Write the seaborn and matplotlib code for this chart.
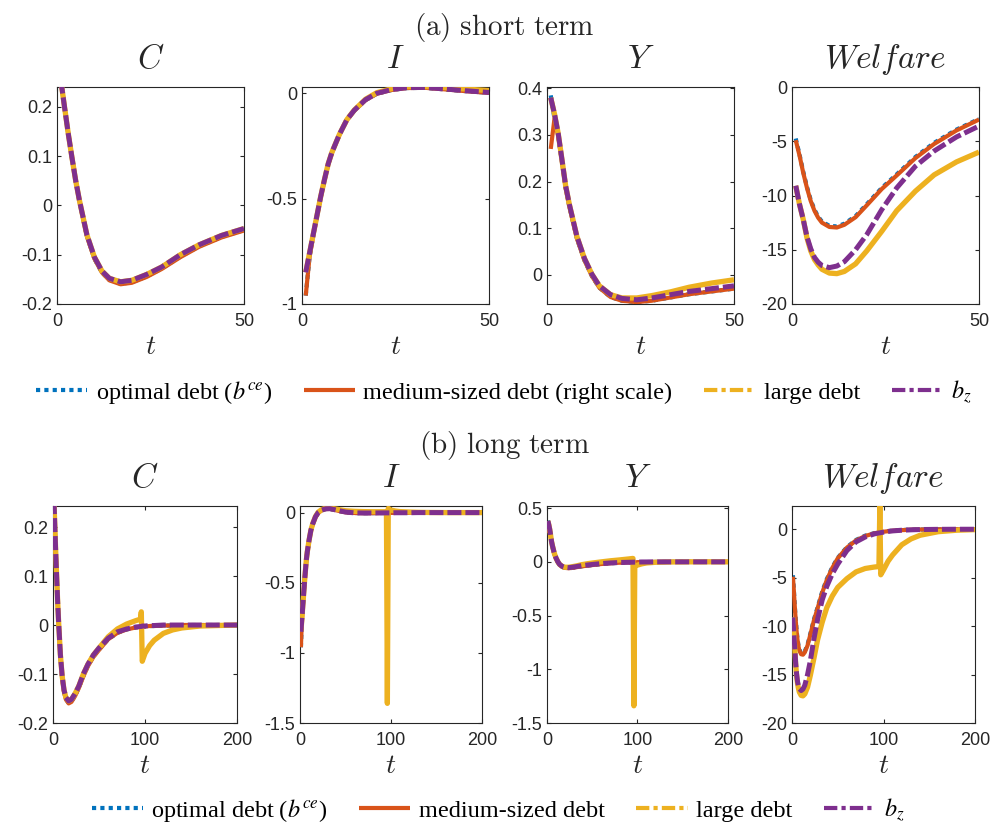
import matplotlib
matplotlib.use("Agg")
import matplotlib.pyplot as plt
import seaborn as sns
from matplotlib.lines import Line2D
from matplotlib.ticker import FuncFormatter

# ---------------- data ----------------
t_short = [1, 2, 3, 4, 5, 6, 7, 8, 10, 12, 14, 17, 20, 24, 28, 33, 38, 44, 50]
t_tail = [60, 70, 80, 90, 95, 96, 97, 100, 105, 110, 120, 130, 140, 160, 180, 200]

# consumption C
C_opt_s = [0.255, 0.200, 0.146, 0.097, 0.050, 0.009, -0.027, -0.062, -0.108, -0.136, -0.151, -0.159, -0.156, -0.144, -0.128, -0.104, -0.083, -0.064, -0.050]
C_med_s = [0.255, 0.200, 0.146, 0.097, 0.050, 0.009, -0.027, -0.062, -0.108, -0.136, -0.152, -0.160, -0.157, -0.145, -0.129, -0.105, -0.084, -0.065, -0.051]
C_lrg_s = [0.255, 0.200, 0.146, 0.097, 0.050, 0.010, -0.025, -0.060, -0.105, -0.133, -0.148, -0.155, -0.152, -0.140, -0.125, -0.100, -0.080, -0.061, -0.047]
C_bz_s = [0.255, 0.200, 0.146, 0.097, 0.050, 0.010, -0.025, -0.060, -0.105, -0.133, -0.148, -0.155, -0.152, -0.140, -0.125, -0.100, -0.080, -0.061, -0.047]
C_opt_tl = [-0.029, -0.016, -0.009, -0.005, -0.004, -0.004, -0.003, -0.003, -0.002, -0.002, -0.001, -0.001, 0.0, 0.0, 0.0, 0.0]
C_med_tl = [-0.029, -0.016, -0.009, -0.005, -0.004, -0.004, -0.003, -0.003, -0.002, -0.002, -0.001, -0.001, 0.0, 0.0, 0.0, 0.0]
C_lrg_tl = [-0.024, -0.008, 0.002, 0.009, 0.012, 0.027, -0.074, -0.058, -0.042, -0.031, -0.017, -0.010, -0.006, -0.002, -0.001, 0.0]
C_bz_tl = [-0.027, -0.014, -0.008, -0.004, -0.003, -0.003, -0.002, -0.002, -0.001, -0.001, 0.0, 0.0, 0.0, 0.0, 0.0, 0.0]

# investment I
I_opt_s = [-0.96, -0.78, -0.675, -0.582, -0.492, -0.412, -0.337, -0.282, -0.197, -0.127, -0.082, -0.032, -0.002, 0.016, 0.025, 0.026, 0.019, 0.010, 0.002]
I_med_s = [-0.96, -0.78, -0.675, -0.582, -0.492, -0.412, -0.337, -0.282, -0.197, -0.127, -0.082, -0.032, -0.002, 0.016, 0.025, 0.026, 0.019, 0.010, 0.002]
I_lrg_s = [-0.85, -0.76, -0.67, -0.58, -0.49, -0.41, -0.335, -0.28, -0.195, -0.125, -0.079, -0.028, 0.003, 0.022, 0.031, 0.032, 0.027, 0.020, 0.013]
I_bz_s = [-0.85, -0.76, -0.67, -0.58, -0.49, -0.41, -0.335, -0.28, -0.195, -0.125, -0.080, -0.030, 0.0, 0.018, 0.027, 0.028, 0.021, 0.012, 0.004]
I_opt_tl = [-0.003, -0.004, -0.004, -0.003, -0.003, -0.003, -0.003, -0.002, -0.002, -0.002, -0.001, -0.001, 0.0, 0.0, 0.0, 0.0]
I_med_tl = [-0.003, -0.004, -0.004, -0.003, -0.003, -0.003, -0.003, -0.002, -0.002, -0.002, -0.001, -0.001, 0.0, 0.0, 0.0, 0.0]
I_lrg_tl = [0.009, 0.007, 0.006, 0.006, 0.006, -1.36, 0.030, 0.018, 0.011, 0.007, 0.004, 0.002, 0.001, 0.0, 0.0, 0.0]
I_bz_tl = [-0.002, -0.003, -0.003, -0.002, -0.002, -0.002, -0.002, -0.002, -0.001, -0.001, -0.001, 0.0, 0.0, 0.0, 0.0, 0.0]

# output Y
Y_opt_s = [0.385, 0.335, 0.298, 0.243, 0.186, 0.146, 0.112, 0.078, 0.031, -0.003, -0.028, -0.048, -0.056, -0.059, -0.056, -0.049, -0.042, -0.036, -0.030]
Y_med_s = [0.270, 0.335, 0.298, 0.243, 0.186, 0.146, 0.112, 0.078, 0.031, -0.003, -0.028, -0.048, -0.056, -0.059, -0.056, -0.049, -0.042, -0.036, -0.030]
Y_lrg_s = [0.380, 0.345, 0.303, 0.247, 0.190, 0.150, 0.116, 0.082, 0.035, 0.001, -0.024, -0.043, -0.050, -0.050, -0.045, -0.037, -0.027, -0.018, -0.011]
Y_bz_s = [0.380, 0.345, 0.303, 0.247, 0.190, 0.150, 0.116, 0.082, 0.035, 0.001, -0.024, -0.043, -0.051, -0.054, -0.050, -0.043, -0.036, -0.030, -0.024]
Y_opt_tl = [-0.020, -0.013, -0.008, -0.005, -0.004, -0.004, -0.004, -0.003, -0.002, -0.002, -0.001, -0.001, 0.0, 0.0, 0.0, 0.0]
Y_med_tl = [-0.020, -0.013, -0.008, -0.005, -0.004, -0.004, -0.004, -0.003, -0.002, -0.002, -0.001, -0.001, 0.0, 0.0, 0.0, 0.0]
Y_lrg_tl = [0.0, 0.010, 0.018, 0.027, 0.032, -1.34, -0.040, -0.030, -0.018, -0.010, -0.004, -0.002, -0.001, 0.0, 0.0, 0.0]
Y_bz_tl = [-0.016, -0.010, -0.006, -0.004, -0.003, -0.003, -0.002, -0.002, -0.001, -0.001, 0.0, 0.0, 0.0, 0.0, 0.0, 0.0]

# welfare
W_opt_s = [-4.75, -6.2, -7.8, -9.2, -10.4, -11.3, -11.95, -12.4, -12.8, -12.85, -12.6, -11.9, -10.8, -9.3, -8.05, -6.45, -5.15, -3.92, -2.95]
W_med_s = [-4.9, -6.3, -7.9, -9.3, -10.5, -11.4, -12.05, -12.5, -12.9, -12.95, -12.7, -12.0, -10.9, -9.4, -8.15, -6.55, -5.25, -4.0, -3.0]
W_lrg_s = [-9.1, -10.8, -12.2, -13.9, -15.1, -15.9, -16.4, -16.8, -17.15, -17.2, -17.0, -16.3, -15.1, -13.3, -11.4, -9.6, -8.1, -6.9, -6.0]
W_bz_s = [-9.1, -10.8, -12.2, -13.8, -14.9, -15.7, -16.15, -16.45, -16.65, -16.5, -16.1, -15.0, -13.6, -11.3, -9.3, -7.3, -5.9, -4.6, -3.6]
W_opt_tl = [-1.85, -1.1, -0.66, -0.4, -0.31, -0.3, -0.29, -0.25, -0.19, -0.14, -0.08, -0.05, -0.03, -0.01, 0.0, 0.0]
W_med_tl = [-1.9, -1.15, -0.7, -0.42, -0.33, -0.32, -0.3, -0.26, -0.2, -0.15, -0.09, -0.05, -0.03, -0.01, 0.0, 0.0]
W_lrg_tl = [-5.1, -4.4, -4.05, -3.9, -3.85, 2.4, -4.7, -4.2, -3.3, -2.65, -1.6, -1.0, -0.62, -0.25, -0.1, -0.04]
W_bz_tl = [-2.2, -1.3, -0.8, -0.48, -0.38, -0.37, -0.35, -0.3, -0.23, -0.17, -0.1, -0.06, -0.03, -0.01, 0.0, 0.0]

titles = [r"$C$", r"$I$", r"$Y$", r"$Welfare$"]
row_titles = [r"$\mathrm{(a)\ short\ term}$", r"$\mathrm{(b)\ long\ term}$"]
legend_labels_a = [r"optimal debt ($b^{ce}$)", "medium-sized debt (right scale)", "large debt", r"$b_z$"]
legend_labels_b = [r"optimal debt ($b^{ce}$)", "medium-sized debt", "large debt", r"$b_z$"]
xticks_short = [0, 50]
xticks_long = [0, 100, 200]
yticks_short = [[-0.2, -0.1, 0, 0.1, 0.2], [-1, -0.5, 0], [0, 0.1, 0.2, 0.3, 0.4], [-20, -15, -10, -5, 0]]
yticks_long = [[-0.2, -0.1, 0, 0.1, 0.2], [-1.5, -1, -0.5, 0], [-1.5, -1, -0.5, 0, 0.5], [-20, -15, -10, -5, 0]]

# ---------------- style ----------------
COL_OPT, COL_MED, COL_LRG, COL_BZ = "#0072BD", "#D95319", "#EDB120", "#7E2F8E"
sns.set_theme(style="white")
plt.rcParams.update({
    "font.family": ["Liberation Sans", "DejaVu Sans"],
    "axes.unicode_minus": False,
    "axes.edgecolor": "#262626",
    "axes.linewidth": 0.8,
    "axes.facecolor": "white",
    "xtick.color": "#262626", "ytick.color": "#262626",
    "xtick.labelcolor": "#262626", "ytick.labelcolor": "#262626",
    "xtick.direction": "in", "ytick.direction": "in",
    "xtick.bottom": True, "ytick.left": True,
    "xtick.top": True, "ytick.right": True,
    "xtick.major.size": 3, "ytick.major.size": 3,
    "xtick.major.width": 0.8, "ytick.major.width": 0.8,
    "xtick.labelsize": 13, "ytick.labelsize": 13,
    "xtick.major.pad": 6.5, "ytick.major.pad": 3.5,
})

fig = plt.figure(figsize=(10.03, 8.27), dpi=100)
W, H = 1003.0, 827.0

rects_top = [(57, 187), (302, 187), (547, 187), (792, 187)]
rects_bot = [(53, 184), (300, 182), (547, 181), (792, 183)]


def draw_panel(ax, t, opt, med, lrg, bz):
    sns.lineplot(x=t, y=opt, ax=ax, color=COL_OPT, lw=3.0, linestyle=(0, (1, 1)),
                 dash_capstyle="butt", zorder=2)
    sns.lineplot(x=t, y=med, ax=ax, color=COL_MED, lw=3.0, solid_capstyle="butt", zorder=3)
    sns.lineplot(x=t, y=lrg, ax=ax, color=COL_LRG, lw=3.8, solid_capstyle="butt", zorder=4)
    sns.lineplot(x=t, y=bz, ax=ax, color=COL_BZ, lw=3.6, linestyle=(0, (2.8, 0.8)),
                 dash_capstyle="butt", zorder=5)


fmt = FuncFormatter(lambda v, p: f"{v:g}")

short_sets = [
    (C_opt_s, C_med_s, C_lrg_s, C_bz_s),
    (I_opt_s, I_med_s, I_lrg_s, I_bz_s),
    (Y_opt_s, Y_med_s, Y_lrg_s, Y_bz_s),
    (W_opt_s, W_med_s, W_lrg_s, W_bz_s),
]
tail_sets = [
    (C_opt_tl, C_med_tl, C_lrg_tl, C_bz_tl),
    (I_opt_tl, I_med_tl, I_lrg_tl, I_bz_tl),
    (Y_opt_tl, Y_med_tl, Y_lrg_tl, Y_bz_tl),
    (W_opt_tl, W_med_tl, W_lrg_tl, W_bz_tl),
]
ylims_short = [(-0.2, 0.24), (-1, 0.03), (-0.063, 0.403), (-20, 0)]
ylims_long = [(-0.2, 0.243), (-1.5, 0.047), (-1.5, 0.52), (-20, 2.4)]

t_long = t_short + t_tail

for row in range(2):
    rects = rects_top if row == 0 else rects_bot
    top_px = 87 if row == 0 else 506
    for k in range(4):
        left, width = rects[k]
        ax = fig.add_axes([left / W, 1 - (top_px + 217) / H, width / W, 217 / H])
        if row == 0:
            opt, med, lrg, bz = short_sets[k]
            draw_panel(ax, t_short, opt, med, lrg, bz)
            ax.set_xlim(0, 50)
            ax.set_xticks(xticks_short)
            ax.set_ylim(*ylims_short[k])
            ax.set_yticks(yticks_short[k])
        else:
            so, sm, sl, sb = short_sets[k]
            lo, lm, ll, lb = tail_sets[k]
            draw_panel(ax, t_long, so + lo, sm + lm, sl + ll, sb + lb)
            ax.set_xlim(0, 200)
            ax.set_xticks(xticks_long)
            ax.set_ylim(*ylims_long[k])
            ax.set_yticks(yticks_long[k])
        ax.yaxis.set_major_formatter(fmt)
        ax.xaxis.set_major_formatter(fmt)
        ax.tick_params(which="both", direction="in", top=True, right=True,
                       labeltop=False, labelright=False)
        for sp in ax.spines.values():
            sp.set_visible(True)
            sp.set_color("#262626")
            sp.set_linewidth(0.8)
        ax.set_title(titles[k], fontsize=24, pad=13.7, math_fontfamily="cm")
        ax.set_xlabel(r"$t$", fontsize=20, math_fontfamily="cm", va="center")
        ax.xaxis.set_label_coords(0.5, -0.2)
        ax.set_ylabel("")
        ax.grid(False)

fig.text(504 / W, 1 - 27 / H, row_titles[0], fontsize=21, math_fontfamily="cm",
         ha="center", va="center")
fig.text(504 / W, 1 - 446 / H, row_titles[1], fontsize=21, math_fontfamily="cm",
         ha="center", va="center")


def legend_handles():
    return [
        Line2D([], [], color=COL_OPT, lw=3, linestyle=(0, (1, 1)), dash_capstyle="butt"),
        Line2D([], [], color=COL_MED, lw=3, solid_capstyle="butt"),
        Line2D([], [], color=COL_LRG, lw=3, linestyle=(0, (3.2, 1, 1, 1)), dash_capstyle="butt"),
        Line2D([], [], color=COL_BZ, lw=3, linestyle=(0, (3.2, 1, 1, 1)), dash_capstyle="butt"),
    ]


for labels, yc, xc in [(legend_labels_a, 392, 504), (legend_labels_b, 810, 498)]:
    leg = fig.legend(legend_handles(), labels, loc="center",
                     bbox_to_anchor=(xc / W, 1 - yc / H), ncol=4, frameon=False,
                     prop={"family": "Liberation Serif", "size": 17.5},
                     handlelength=2.1, handletextpad=0.35, columnspacing=1.3,
                     borderpad=0.0, borderaxespad=0.0)
    for txt in leg.get_texts():
        txt.set_math_fontfamily("stix")
        txt.set_color("black")

fig.savefig("out.png", dpi=100)
